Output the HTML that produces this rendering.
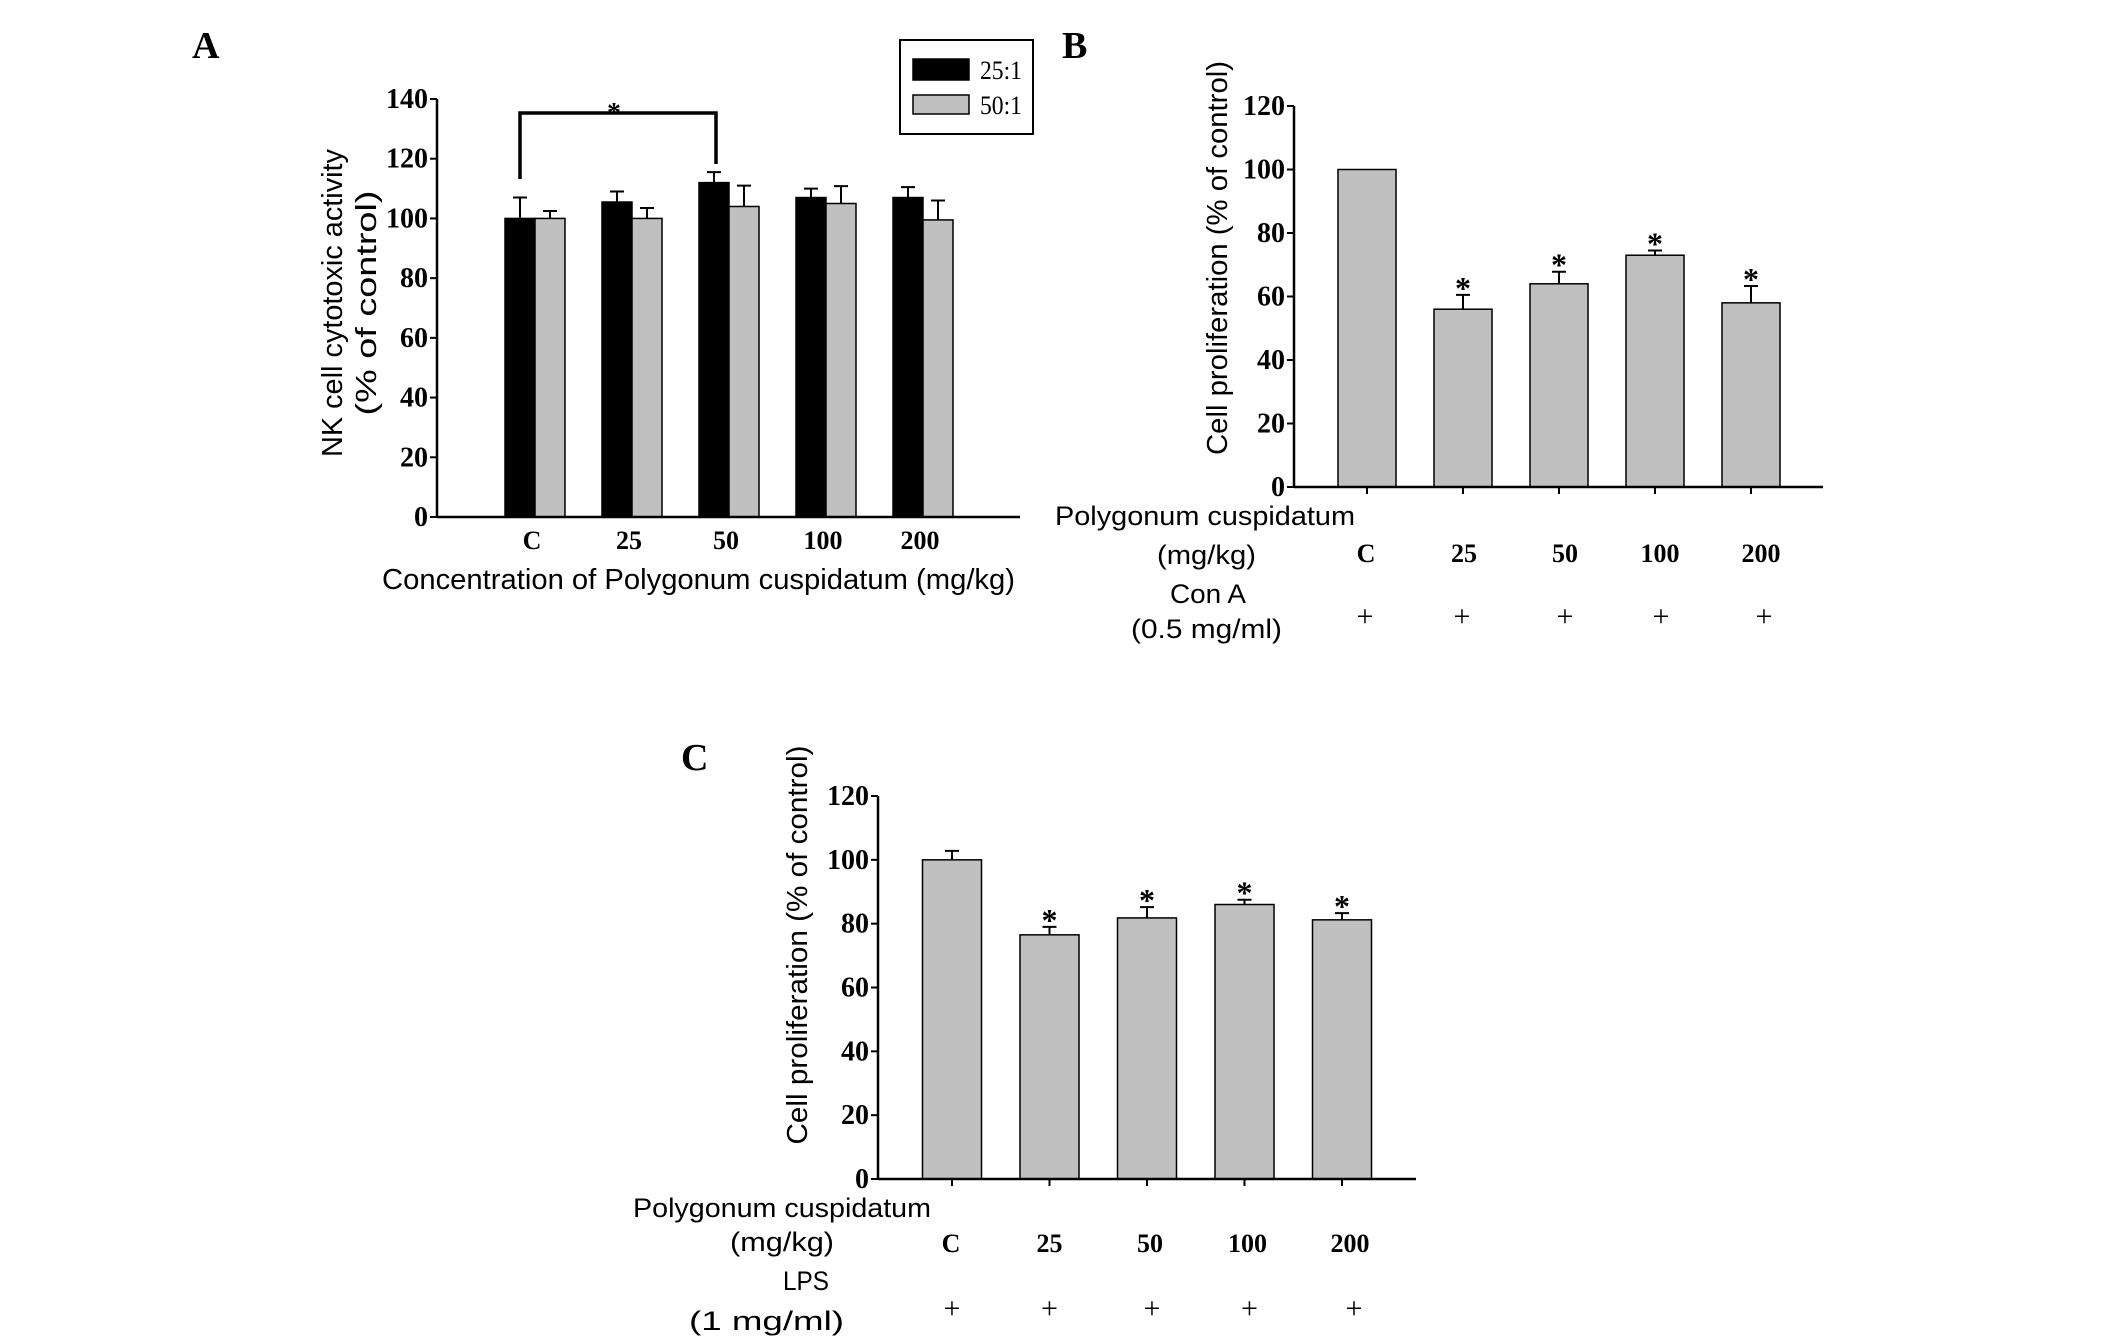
<!DOCTYPE html>
<html><head><meta charset="utf-8"><style>
html,body{margin:0;padding:0;background:#fff}
svg{display:block}
.tk{font-family:"Liberation Serif",serif;font-weight:bold;font-size:28px}
.st{font-family:"Liberation Serif",serif;font-weight:bold;font-size:32px}
.cat{font-family:"Liberation Serif",serif;font-weight:bold;font-size:26px}
.lab{font-family:"Liberation Sans",sans-serif;font-size:27px}
.pl{font-family:"Liberation Sans",sans-serif;font-size:29px}
</style></head><body>
<svg id="fig" width="2126" height="1337" viewBox="0 0 2126 1337">
<text x="192" y="58" style="font-family:'Liberation Serif',serif;font-weight:bold;font-size:38px">A</text>
<text x="1062" y="58" style="font-family:'Liberation Serif',serif;font-weight:bold;font-size:38px">B</text>
<text x="681" y="770" style="font-family:'Liberation Serif',serif;font-weight:bold;font-size:38px">C</text>
<g id="gA"></g>
<g id="gB"></g>
<g id="gC"></g>
</svg>
<script>
// Panel A data
const catsA = ["C","25","50","100","200"];
const valsA25 = [100,105.5,112,107,107];
const errA25 = [107,109,115.5,110,110.5];
const valsA50 = [100,100,104,105,99.5];
const errA50 = [102.5,103.5,111,110.8,106];
const ticksA = [0,20,40,60,80,100,120,140];
// Panel B data
const catsB = ["C","25","50","100","200"];
const valsB = [100,56,64,73,58];
const errB = [100,60.5,67.8,74.5,63.3];
const starsB = [false,true,true,true,true];
const ticksB = [0,20,40,60,80,100,120];
// Panel C data
const catsC = ["C","25","50","100","200"];
const valsC = [100,76.5,81.8,86,81.2];
const errC = [102.8,79,85.2,87.5,83.3];
const starsC = [false,true,true,true,true];
const ticksC = [0,20,40,60,80,100,120];

const NS="http://www.w3.org/2000/svg";
function mk(parent,tag,attrs,text){
  const e=document.createElementNS(NS,tag);
  for(const k in attrs) e.setAttribute(k,attrs[k]);
  if(text!==undefined) e.textContent=text;
  parent.appendChild(e); return e;
}
function yAxis(g,ax,y0,yMax,max,ticks,name){
  const sy=v=>y0-(v/max)*(y0-yMax);
  const l=mk(g,'line',{x1:ax,y1:y0,x2:ax,y2:yMax,stroke:'#000','stroke-width':2.5});
  
  
  ticks.forEach(t=>{
    mk(g,'line',{x1:ax-7,y1:sy(t),x2:ax,y2:sy(t),stroke:'#000','stroke-width':2});
    const tx=mk(g,'text',{x:ax-9,y:sy(t)+9,'text-anchor':'end',class:'tk'},String(t));
    
    
  });
  return sy;
}
function errBar(g,cx,top,val,sy,name){
  const e=mk(g,'path',{d:`M${cx},${sy(val)} V${sy(top)} M${cx-7},${sy(top)} H${cx+7}`,stroke:'#000','stroke-width':2,fill:'none'});
  
  
}

// ---------- Panel A ----------
(function(){
  const g=document.getElementById('gA');
  const ax=437,y0=517,yMax=99,x0=535,dx=97,bw=30;
  const sy=yAxis(g,ax,y0,yMax,140,ticksA,'panel-a');
  catsA.forEach((c,i)=>{
    const cx=x0+i*dx;
    const b1=mk(g,'rect',{x:cx-bw,y:sy(valsA25[i]),width:bw,height:y0-sy(valsA25[i]),fill:'#000',stroke:'#000','stroke-width':1.5});
    
    
    errBar(g,cx-bw/2,errA25[i],valsA25[i],sy,'error-bar-25-1-'+c);
    const b2=mk(g,'rect',{x:cx,y:sy(valsA50[i]),width:bw,height:y0-sy(valsA50[i]),fill:'#c0c0c0',stroke:'#000','stroke-width':1.5});
    
    
    errBar(g,cx+bw/2,errA50[i],valsA50[i],sy,'error-bar-50-1-'+c);
    const t=mk(g,'text',{x:cx-3,y:549,'text-anchor':'middle',class:'cat'},c);
    
    
  });
  const xl=mk(g,'line',{x1:ax,y1:y0,x2:1020,y2:y0,stroke:'#000','stroke-width':2.5});
  
  
  const br=mk(g,'path',{d:`M${x0-15},179 V113 H${x0+2*dx-13} V164`,stroke:'#000','stroke-width':3.5,fill:'none'});
  
  
  const st=mk(g,'text',{x:614,y:122,'text-anchor':'middle',class:'tk'},'*');
  
  
  const yt=mk(g,'text',{transform:'translate(342,303) rotate(-90)','text-anchor':'middle',class:'pl',textLength:308,lengthAdjust:'spacingAndGlyphs'},'NK cell cytotoxic activity');
  
  
  const yt2=mk(g,'text',{transform:'translate(376,303) rotate(-90)','text-anchor':'middle',class:'pl',textLength:225,lengthAdjust:'spacingAndGlyphs'},'(% of control)');
  
  
  const xt=mk(g,'text',{x:382,y:589,class:'pl',textLength:633,lengthAdjust:'spacingAndGlyphs'},'Concentration of Polygonum cuspidatum (mg/kg)');
  
  
  // legend
  const lg=mk(g,'g',{});
  
  
  mk(lg,'rect',{x:900,y:40,width:133,height:94,fill:'#fff',stroke:'#000','stroke-width':2});
  const s1=mk(lg,'rect',{x:913,y:59,width:56,height:21,fill:'#000',stroke:'#000','stroke-width':1.5});
  
  
  const s2=mk(lg,'rect',{x:913,y:95,width:56,height:19,fill:'#c0c0c0',stroke:'#000','stroke-width':1.5});
  
  
  const l1=mk(lg,'text',{x:980,y:79,style:"font-family:'Liberation Serif',serif;font-size:26px",textLength:42,lengthAdjust:'spacingAndGlyphs'},'25:1');
  
  
  const l2=mk(lg,'text',{x:980,y:114,style:"font-family:'Liberation Serif',serif;font-size:26px",textLength:42,lengthAdjust:'spacingAndGlyphs'},'50:1');
  
  
})();

// ---------- Panels B and C ----------
function singlePanel(id,cats,vals,errs,stars,ticks,cfg,name){
  const g=document.getElementById(id);
  const sy=yAxis(g,cfg.ax,cfg.y0,cfg.yMax,120,ticks,name);
  cats.forEach((c,i)=>{
    const cx=cfg.x0+i*cfg.dx;
    const b=mk(g,'rect',{x:cx-cfg.bw/2,y:sy(vals[i]),width:cfg.bw,height:cfg.y0-sy(vals[i]),fill:'#c0c0c0',stroke:'#000','stroke-width':1.5});
    
    
    if(errs[i]>vals[i]) errBar(g,cx,errs[i],vals[i],sy,name+'-error-bar-'+c);
    if(stars[i]){
      const s=mk(g,'text',{x:cx,y:sy(errs[i])+cfg.sOff,'text-anchor':'middle',class:'st'},'*');
      
      
    }
    mk(g,'line',{x1:cx,y1:cfg.y0,x2:cx,y2:cfg.y0+7,stroke:'#000','stroke-width':2});
    const t=mk(g,'text',{x:cx+cfg.lo[i],y:cfg.catY,'text-anchor':'middle',class:'cat'},c);
    
    
    const p=mk(g,'text',{x:cx+cfg.po[i],y:cfg.plusY,'text-anchor':'middle',style:"font-family:'Liberation Serif',serif;font-size:30px"},'+');
    
    
  });
  const xl=mk(g,'line',{x1:cfg.ax,y1:cfg.y0,x2:cfg.xEnd,y2:cfg.y0,stroke:'#000','stroke-width':2.5});
  
  
  const yt=mk(g,'text',{transform:`translate(${cfg.ytx},${cfg.yty}) rotate(-90)`,'text-anchor':'middle',class:'pl',textLength:cfg.ytl,lengthAdjust:'spacingAndGlyphs'},'Cell proliferation (% of control)');
  
  
  cfg.rows.forEach(r=>{
    const t=mk(g,'text',{x:r[0],y:r[1],class:'lab',textLength:r[2],lengthAdjust:'spacingAndGlyphs'},r[3]);
    
    
  });
}
singlePanel('gB',catsB,valsB,errB,starsB,ticksB,{
  ax:1294,y0:487,yMax:106,x0:1367,dx:96,bw:58,xEnd:1823,catY:562,plusY:626,sOff:4,
  lo:[-1,1,6,5,10],po:[-2,-1,6,6,13],ytx:1227,yty:258,ytl:394,
  rows:[[1055,525,300,'Polygonum cuspidatum'],[1157,564,99,'(mg/kg)'],[1170,603,76,'Con A'],[1131,638,151,'(0.5 mg/ml)']]
},'panel-b');
singlePanel('gC',catsC,valsC,errC,starsC,ticksC,{
  ax:878,y0:1179,yMax:796,x0:952,dx:97.5,bw:59,xEnd:1416,catY:1252,plusY:1318,sOff:4,
  lo:[-1,0,3,3,8],po:[0,0,5,5,12],ytx:807,yty:945,ytl:399,
  rows:[[633,1217,298,'Polygonum cuspidatum'],[730,1251,104,'(mg/kg)'],[783,1290,46,'LPS'],[689,1330,155,'(1 mg/ml)']]
},'panel-c');
</script>
</body></html>
